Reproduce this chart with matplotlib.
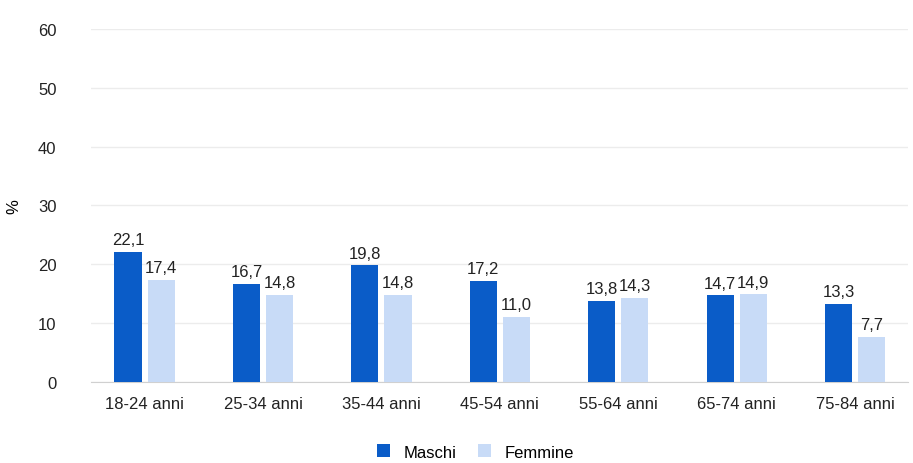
import numpy as np
import matplotlib.pyplot as plt

plt.rcParams['font.family'] = ['Liberation Sans Narrow', 'Liberation Sans', 'DejaVu Sans']
plt.rcParams['font.size'] = 12

# data
categories = ['18-24 anni', '25-34 anni', '35-44 anni', '45-54 anni',
              '55-64 anni', '65-74 anni', '75-84 anni']
maschi = [22.1, 16.7, 19.8, 17.2, 13.8, 14.7, 13.3]
femmine = [17.4, 14.8, 14.8, 11.0, 14.3, 14.9, 7.7]
yticks = [0, 10, 20, 30, 40, 50, 60]

dark = '#0a5cc8'
light = '#c8dbf7'

def fmt(v):
    return f'{v:.1f}'.replace('.', ',')

fig = plt.figure(figsize=(9.13, 4.64), dpi=100)
ax = fig.add_axes([0.10, 0.175, 0.895, 0.76])

x = np.arange(len(categories))
w = 0.23
off = 0.14
b1 = ax.bar(x - off, maschi, width=w, color=dark, label='Maschi', zorder=3)
b2 = ax.bar(x + off, femmine, width=w, color=light, label='Femmine', zorder=3)

for bars, vals in ((b1, maschi), (b2, femmine)):
    for b, v in zip(bars, vals):
        ax.text(b.get_x() + b.get_width() / 2, v + 0.8, fmt(v),
                ha='center', va='bottom', fontsize=12, color='#222222')

ax.set_ylim(0, 60)
ax.set_yticks(yticks)
ax.set_xlim(-0.45, 6.45)
ax.set_xticks(x)
ax.set_xticklabels(categories)
ax.set_ylabel('%', fontsize=12)
ax.yaxis.set_label_coords(-0.085, 0.5)
ax.yaxis.grid(True, color='#ececec', linewidth=1, zorder=0)
for s in ['top', 'right', 'left']:
    ax.spines[s].set_visible(False)
ax.spines['bottom'].set_color('#d0d0d0')
ax.tick_params(axis='both', length=0, colors='#222222', labelsize=12)
ax.tick_params(axis='x', pad=10)
ax.tick_params(axis='y', pad=25)

ax.legend(loc='upper center', bbox_to_anchor=(0.47, -0.135), ncol=2, frameon=False,
          handlelength=0.8, handleheight=0.8, columnspacing=1.3, fontsize=12)

plt.savefig('out.png', dpi=100)
